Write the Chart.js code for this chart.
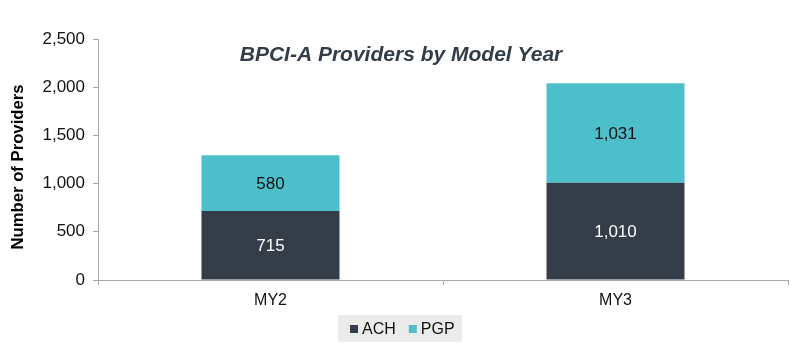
<!DOCTYPE html>
<html>
<head>
<meta charset="utf-8">
<script src="https://cdn.jsdelivr.net/npm/chart.js@4/dist/chart.umd.min.js"></script>
<style>
html,body{margin:0;padding:0;background:#fff;}
#wrap{width:800px;height:355px;position:relative;}
</style>
</head>
<body>
<div id="wrap"><canvas id="c" width="800" height="355"></canvas></div>
<script>
const categories = ["MY2", "MY3"];
const achValues = [715, 1010];
const pgpValues = [580, 1031];
const seriesNames = ["ACH", "PGP"];
const yTicks = [0, 500, 1000, 1500, 2000, 2500];
const chartTitle = "BPCI-A Providers by Model Year";
const yAxisTitle = "Number of Providers";

const FONT = "'Liberation Sans', Arial, sans-serif";
const fmt = v => v.toLocaleString('en-US');

const overlay = {
  id: 'overlay',
  afterDatasetsDraw(chart) {
    const ctx = chart.ctx;
    ctx.save();
    // data labels
    chart.data.datasets.forEach((ds, di) => {
      const meta = chart.getDatasetMeta(di);
      meta.data.forEach((bar, i) => {
        const yc = (bar.y + bar.base) / 2;
        ctx.font = "17px " + FONT;
        ctx.textAlign = 'center';
        ctx.textBaseline = 'middle';
        ctx.fillStyle = ds.labelColor;
        ctx.fillText(fmt(ds.data[i]), bar.x, yc + 1);
      });
    });
    // title
    ctx.font = "italic bold 21px " + FONT;
    ctx.fillStyle = '#333d47';
    ctx.textAlign = 'center';
    ctx.textBaseline = 'middle';
    ctx.fillText(chartTitle, 401, 55);
    // y axis title
    ctx.save();
    ctx.translate(18, 167);
    ctx.rotate(-Math.PI / 2);
    ctx.font = "bold 16.7px " + FONT;
    ctx.fillStyle = '#000';
    ctx.fillText(yAxisTitle, 0, 0);
    ctx.restore();
    // legend
    ctx.fillStyle = '#ebebeb';
    ctx.fillRect(338, 315, 124, 27);
    ctx.font = "16px " + FONT;
    ctx.textAlign = 'left';
    ctx.textBaseline = 'middle';
    let x = 350;
    chart.data.datasets.forEach((ds) => {
      ctx.fillStyle = ds.backgroundColor;
      ctx.fillRect(x, 325, 8, 8);
      ctx.fillStyle = '#111';
      ctx.fillText(ds.label, x + 12, 330);
      x += 12 + ctx.measureText(ds.label).width + 13;
    });
    ctx.restore();
  }
};

new Chart(document.getElementById('c'), {
  type: 'bar',
  data: {
    labels: categories,
    datasets: [
      { label: seriesNames[0], data: achValues, backgroundColor: '#353e48', labelColor: '#ffffff',
        barPercentage: 0.8, categoryPercentage: 0.5 },
      { label: seriesNames[1], data: pgpValues, backgroundColor: '#4dbfcb', labelColor: '#111111',
        barPercentage: 0.8, categoryPercentage: 0.5 }
    ]
  },
  options: {
    responsive: false,
    animation: false,
    devicePixelRatio: 1,
    layout: { padding: { left: 0, right: 12, top: 39, bottom: 0 } },
    plugins: { legend: { display: false }, tooltip: { enabled: false }, title: { display: false } },
    scales: {
      x: {
        stacked: true,
        grid: { drawOnChartArea: false, drawTicks: true, tickLength: 5, color: '#a6a6a6', offset: true },
        border: { display: true, color: '#a6a6a6', width: 1 },
        ticks: { color: '#111', font: { family: FONT, size: 16 }, padding: 6 },
        afterFit(s) { s.height = 75; }
      },
      y: {
        stacked: true,
        min: 0, max: 2500,
        afterBuildTicks(s) { s.ticks = yTicks.map(v => ({ value: v })); },
        grid: { drawOnChartArea: false, drawTicks: true, tickLength: 5, color: '#a6a6a6' },
        border: { display: true, color: '#a6a6a6', width: 1 },
        ticks: { color: '#111', font: { family: FONT, size: 17 }, padding: 8, callback: v => fmt(v) },
        afterFit(s) { s.width = 98; }
      }
    }
  },
  plugins: [overlay]
});
</script>
</body>
</html>
